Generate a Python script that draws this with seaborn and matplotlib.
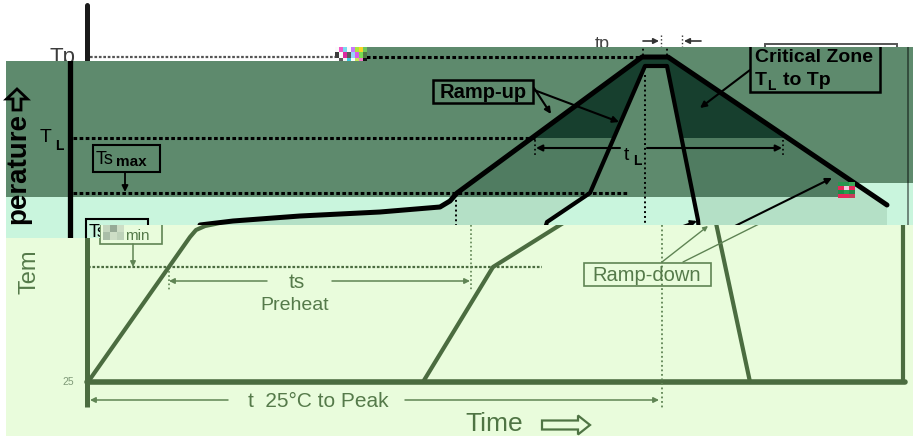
import numpy as np
import matplotlib
matplotlib.use("Agg")
import matplotlib.pyplot as plt
import seaborn as sns
from matplotlib.patches import Polygon, Rectangle, FancyArrowPatch, FancyArrow, PathPatch
from matplotlib.path import Path
from matplotlib.transforms import Bbox

W, H = 913, 436

# the picture is three overlapping copies of one reflow-profile sketch
BAND_B = [(6, 61), (367, 61), (367, 47), (913, 47), (913, 225), (100, 225), (100, 238), (6, 238)]
DARK_B = [(6, 61), (367, 61), (367, 47), (913, 47), (913, 183), (853, 183), (853, 197), (6, 197)]
MINT_B = [(6, 197), (853, 197), (853, 183), (913, 183), (913, 225), (100, 225), (100, 238), (6, 238)]
BAND_C = [(6, 238), (100, 238), (100, 225), (913, 225), (913, 436), (6, 436)]

# copy B : black on green
B_OUTER_T = [150, 200, 233, 300, 380, 440, 450, 457, 642, 668, 887, 887]
B_OUTER_Y = [240, 225, 221, 216, 212, 207, 201, 193, 57, 57, 205, 245]
B_INNER_T = [540, 547, 590, 645, 667, 698, 700]
B_INNER_Y = [245, 222, 193, 66, 66, 220, 245]
B_TP, B_TL, B_TSMAX = 57, 138, 193

# copy C : green on pale
C_RAMP1_T = [88, 190, 196, 205, 215, 260]
C_RAMP1_Y = [382, 237, 230, 226, 224, 214]
C_RAMP2_T = [423, 493, 560, 600]
C_RAMP2_Y = [382, 267, 225, 200]
C_DOWN_T = [710, 750]
C_DOWN_Y = [195, 382]
C_BASE_Y = 382
C_TSMIN = 267
C_T25_LABEL = "25"

DARK_BG = "#5e8a6d"
DARK_FILL = "#173f2e"
MID_FILL = "#507c61"
MINT_BG = "#c9f5dd"
MINT_FILL = "#b4e0c6"
PALE_BG = "#e9fcdc"
GREEN = "#4b6c40"
GREEN_THIN = "#5f8454"
GREEN_TXT = "#557a4a"

sns.set_theme(style="white")
plt.rcParams["font.family"] = ["Liberation Sans", "DejaVu Sans"]

fig = plt.figure(figsize=(W / 100, H / 100), dpi=100)
ax = fig.add_axes([0, 0, 1, 1])
ax.axis("off")
ax.set_xlim(0, W)
ax.set_ylim(H, 0)
ax.set_autoscale_on(False)


def region(verts):
    return Polygon(verts, closed=True, transform=ax.transData)


clipB = region(BAND_B)
clipC = region(BAND_C)


def rect_box(x0, y0, x1, y1):
    p = ax.transData.transform([(x0, y0), (x1, y1)])
    return Bbox.from_extents(p[:, 0].min(), p[:, 1].min(), p[:, 0].max(), p[:, 1].max())


# text can only be cut by rectangles, so each band is split in two
BOX_B_LEFT = rect_box(6, 61, 367, 238)
BOX_B_RIGHT = rect_box(367, 47, 913, 238)
BOX_C_LEFT = rect_box(6, 238, 100, 436)
BOX_C_RIGHT = rect_box(100, 225, 913, 436)


def line(xs, ys, clip, **kw):
    sns.lineplot(x=xs, y=ys, sort=False, estimator=None, ax=ax, **kw)
    ax.lines[-1].set_clip_path(clip)


def seg(xs, ys, clip, **kw):
    ln, = ax.plot(xs, ys, **kw)
    if clip is not None:
        ln.set_clip_path(clip)


def arrow(p0, p1, clip, color, lw=1.3, z=5, ms=9):
    a = FancyArrowPatch(p0, p1, arrowstyle="-|>", mutation_scale=ms, color=color,
                        lw=lw, shrinkA=0, shrinkB=0, zorder=z)
    ax.add_patch(a)
    if clip is not None:
        a.set_clip_path(clip)


def txt(x, y, s, box, **kw):
    t = ax.text(x, y, s, **kw)
    if box is not None:
        t.set_clip_box(box)
        t.set_clip_on(True)
    return t


def box(x, y, w, h, clip, **kw):
    r = Rectangle((x, y), w, h, fill=False, **kw)
    ax.add_patch(r)
    if clip is not None:
        r.set_clip_path(clip)


DOT = (0, (1.2, 0.8))

# ---------------- copy A (white, top strip) ----------------
seg([87, 87], [5, 62], None, color="#1a1a1a", lw=3.6, zorder=1)
txt(50, 63, "Tp", rect_box(0, 0, 367, 61), fontsize=16, color="#3c3c3c", zorder=1)
seg([90, 340], [57, 57], None, color="#555555", lw=1.6, ls=DOT, zorder=1)
txt(595, 49, "tp", rect_box(367, 0, 913, 47), fontsize=13, color="#444444", zorder=1)
arrow((643, 41), (659, 41), None, "#333333", lw=1.2, z=1, ms=8)
arrow((701, 41), (684, 41), None, "#333333", lw=1.2, z=1, ms=8)
seg([661, 661], [35, 48], None, color="#333333", lw=1.0, ls=":", zorder=1)
seg([682, 682], [35, 48], None, color="#333333", lw=1.0, ls=":", zorder=1)
box(765, 44, 132, 30, None, ec="#555555", lw=1.4, zorder=1)
glitch_a = np.array([
    [[250, 250, 250], [240, 90, 200], [120, 220, 240], [250, 250, 250], [200, 120, 250], [170, 230, 60], [250, 210, 40], [110, 200, 90]],
    [[60, 60, 60], [250, 250, 250], [220, 40, 160], [90, 90, 90], [150, 210, 250], [220, 90, 230], [120, 220, 80], [80, 120, 70]],
    [[250, 250, 250], [90, 90, 90], [240, 240, 240], [60, 200, 220], [250, 250, 250], [200, 230, 90], [240, 120, 200], [20, 20, 20]],
], dtype=np.uint8)
ax.imshow(glitch_a, extent=(335, 367, 63, 47), zorder=1.5, interpolation="nearest", aspect="auto")

# ---------------- copy B (green strip) ----------------
ax.add_patch(Polygon(DARK_B, closed=True, fc=DARK_BG, ec="none", zorder=2))
ax.add_patch(Polygon(MINT_B, closed=True, fc=MINT_BG, ec="none", zorder=2))

outer = list(zip(B_OUTER_T, B_OUTER_Y))
inner = list(zip(B_INNER_T, B_INNER_Y))[::-1]
verts = outer + [outer[0]] + inner + [inner[0]]
codes = ([Path.MOVETO] + [Path.LINETO] * (len(outer) - 1) + [Path.CLOSEPOLY]
         + [Path.MOVETO] + [Path.LINETO] * (len(inner) - 1) + [Path.CLOSEPOLY])
band_path = Path(verts, codes)
for col, clip_verts in [
    (DARK_FILL, [(367, 47), (913, 47), (913, B_TL), (367, B_TL)]),
    (MID_FILL, [(6, B_TL), (913, B_TL), (913, 183), (853, 183), (853, 197), (6, 197)]),
    (MINT_FILL, MINT_B),
]:
    pp = PathPatch(band_path, fc=col, ec="none", zorder=2.5)
    ax.add_patch(pp)
    pp.set_clip_path(region(clip_verts))

# guides
seg([70, 70], [40, 245], clipB, color="black", lw=3.8, zorder=4)
seg([73, 640], [B_TP, B_TP], clipB, color="black", lw=2.2, ls=DOT, zorder=3)
seg([73, 535], [B_TL, B_TL], clipB, color="black", lw=2.2, ls=DOT, zorder=3)
seg([73, 628], [B_TSMAX, B_TSMAX], clipB, color="black", lw=2.2, ls=DOT, zorder=3)
seg([645, 645], [75, 245], clipB, color="black", lw=1.4, ls=(0, (1, 1.5)), zorder=3)
seg([456, 456], [195, 245], clipB, color="black", lw=1.4, ls=(0, (1, 1.5)), zorder=3)
seg([643, 643], [44, 57], clipB, color="black", lw=1.3, ls=":", zorder=3)
seg([667, 667], [44, 57], clipB, color="black", lw=1.3, ls=":", zorder=3)
seg([908, 908], [47, 225], clipB, color="black", lw=1.4, alpha=0.45, zorder=3)

# profile
line(B_OUTER_T[1:-1], B_OUTER_Y[1:-1], clipB, color="black", lw=3.6, zorder=4)
line(B_INNER_T, B_INNER_Y, clipB, color="black", lw=3.0, zorder=4)

# labels copy B (only the upper part of the axis title is visible here)
txt(18, 113, "perature", BOX_B_LEFT, rotation=90, ha="center", va="top",
    fontsize=20, fontweight="bold", color="black", zorder=5)
ax.add_patch(FancyArrow(17, 110, 0, -21, width=8, head_width=21, head_length=10,
                        length_includes_head=True, fill=False, ec="black", lw=2.0, zorder=5))
txt(40, 142, "T", BOX_B_LEFT, fontsize=14, color="black", zorder=5)
txt(55, 150, "L", BOX_B_LEFT, fontsize=10, color="black", fontweight="bold", zorder=5)

box(93, 145, 67, 27, clipB, ec="black", lw=1.5, zorder=5)
txt(96, 164, "Ts", BOX_B_LEFT, fontsize=13, color="black", zorder=5)
txt(116, 166, "max", BOX_B_LEFT, fontsize=11, fontweight="bold", color="black", zorder=5)
arrow((125, 172), (125, 192), clipB, "black", lw=1.3)

box(86, 219, 62, 27, clipB, ec="black", lw=1.5, zorder=5)
txt(89, 237, "Ts", BOX_B_LEFT, fontsize=13, color="black", zorder=5)

box(433, 80, 100, 23, clipB, ec="black", lw=1.8, zorder=5)
txt(483, 92, "Ramp-up", BOX_B_RIGHT, ha="center", va="center", fontsize=14.5,
    fontweight="bold", color="black", zorder=5)
arrow((534, 88), (551, 114), clipB, "black", lw=1.5)
arrow((534, 90), (619, 122), clipB, "black", lw=1.5)

box(750, 36, 130, 56, clipB, ec="black", lw=1.8, zorder=5)
txt(755, 62, "Critical Zone", BOX_B_RIGHT, fontsize=14, fontweight="bold", color="black", zorder=5)
txt(755, 85, "T", BOX_B_RIGHT, fontsize=14, fontweight="bold", color="black", zorder=5)
txt(767, 90, "L", BOX_B_RIGHT, fontsize=10, fontweight="bold", color="black", zorder=5)
txt(783, 85, "to Tp", BOX_B_RIGHT, fontsize=14, fontweight="bold", color="black", zorder=5)
arrow((750, 70), (700, 108), clipB, "black", lw=1.5)

seg([535, 535], [140, 157], clipB, color="black", lw=1.2, ls=":", zorder=4)
seg([783, 783], [140, 157], clipB, color="black", lw=1.2, ls=":", zorder=4)
arrow((620, 148), (536, 148), clipB, "black", lw=1.5)
arrow((647, 148), (782, 148), clipB, "black", lw=1.5)
txt(624, 160, "t", BOX_B_RIGHT, fontsize=14, color="black", zorder=5)
txt(633, 165, "L", BOX_B_RIGHT, fontsize=10, fontweight="bold", color="black", zorder=5)

arrow((735, 226), (832, 178), clipB, "black", lw=1.5)
arrow((650, 238), (697, 221), clipB, "black", lw=1.5)

glitch_b = np.array([
    [[40, 150, 80], [40, 150, 80], [60, 170, 90]],
    [[230, 40, 90], [240, 200, 220], [230, 40, 90]],
    [[30, 140, 70], [40, 160, 80], [30, 140, 70]],
    [[230, 40, 90], [230, 40, 90], [200, 60, 90]],
], dtype=np.uint8)
ax.imshow(glitch_b, extent=(838, 855, 198, 183), zorder=5.5, interpolation="nearest", aspect="auto")

# ---------------- copy C (pale strip) ----------------
ax.add_patch(Polygon(BAND_C, closed=True, fc=PALE_BG, ec="none", zorder=6))

seg([87, 87], [220, 407], clipC, color=GREEN, lw=3.6, zorder=7, solid_capstyle="butt")
seg([87, 905], [C_BASE_Y, C_BASE_Y], clipC, color=GREEN, lw=4.0, zorder=7)
seg([903, 903], [215, C_BASE_Y], clipC, color=GREEN, lw=3.0, zorder=7)
line(C_RAMP1_T, C_RAMP1_Y, clipC, color=GREEN, lw=3.0, zorder=7)
line(C_RAMP2_T, C_RAMP2_Y, clipC, color=GREEN, lw=3.0, zorder=7)
line(C_DOWN_T, C_DOWN_Y, clipC, color=GREEN, lw=3.0, zorder=7)

seg([88, 542], [C_TSMIN, C_TSMIN], clipC, color=GREEN, lw=1.6, ls=DOT, zorder=7)
seg([471, 471], [225, 290], clipC, color=GREEN_THIN, lw=1.2, ls=(0, (1, 1.5)), zorder=7)
seg([169, 169], [271, 290], clipC, color=GREEN_THIN, lw=1.2, ls=(0, (1, 1.5)), zorder=7)
seg([662, 662], [225, 408], clipC, color=GREEN_THIN, lw=1.3, ls=(0, (1, 1.5)), zorder=7)

txt(68, 382, C_T25_LABEL, BOX_C_LEFT, ha="center", va="center", fontsize=7.5, color="#7f9a78", zorder=8)
txt(29, 294, "Tem", BOX_C_LEFT, rotation=90, ha="center", va="bottom",
    fontsize=17, color=GREEN_TXT, zorder=8)

# Ts_min box of copy C: its "Ts" is lost under a smudge
box(100, 212, 62, 32, clipC, ec=GREEN_THIN, lw=1.2, zorder=8)
txt(125, 240, "min", BOX_C_RIGHT, fontsize=11, color=GREEN_TXT, zorder=8)
glitch_c = np.array([
    [[196, 214, 190], [150, 170, 150], [205, 222, 198]],
    [[170, 190, 168], [205, 222, 198], [190, 210, 186]],
], dtype=np.uint8)
ax.imshow(glitch_c, extent=(103, 124, 240, 225), zorder=8.5, interpolation="nearest", aspect="auto")
arrow((133, 244), (133, 267), clipC, GREEN_THIN, lw=1.1, z=8, ms=8)

arrow((267, 281), (169, 281), clipC, GREEN_THIN, lw=1.1, z=8, ms=8)
arrow((332, 281), (470, 281), clipC, GREEN_THIN, lw=1.1, z=8, ms=8)
txt(297, 282, "ts", BOX_C_RIGHT, ha="center", va="center", fontsize=15, color=GREEN_TXT, zorder=8)
txt(295, 305, "Preheat", BOX_C_RIGHT, ha="center", va="center", fontsize=14, color=GREEN_TXT, zorder=8)

box(584, 263, 127, 23, clipC, ec=GREEN_THIN, lw=1.2, zorder=8)
txt(647, 275, "Ramp-down", BOX_C_RIGHT, ha="center", va="center", fontsize=14.5, color=GREEN_TXT, zorder=8)
arrow((662, 262), (708, 226), clipC, GREEN_THIN, lw=1.0, z=8, ms=7)
arrow((683, 262), (775, 216), clipC, GREEN_THIN, lw=1.0, z=8, ms=7)

arrow((228, 400), (90, 400), clipC, GREEN_THIN, lw=1.1, z=8, ms=8)
arrow((405, 400), (659, 400), clipC, GREEN_THIN, lw=1.1, z=8, ms=8)
txt(318, 401, "t  25\u00b0C to Peak", BOX_C_RIGHT, ha="center", va="center", fontsize=15,
    color=GREEN_TXT, zorder=8)

txt(465, 424, "Time", BOX_C_RIGHT, va="center", fontsize=19, color="#4f7444", zorder=8)
ax.add_patch(FancyArrow(542, 425, 48, 0, width=9, head_width=19, head_length=12,
                        length_includes_head=True, fill=False, ec="#4f7444", lw=1.6, zorder=8))

ax.set_xlim(0, W)
ax.set_ylim(H, 0)
fig.savefig("out.png", dpi=100)
